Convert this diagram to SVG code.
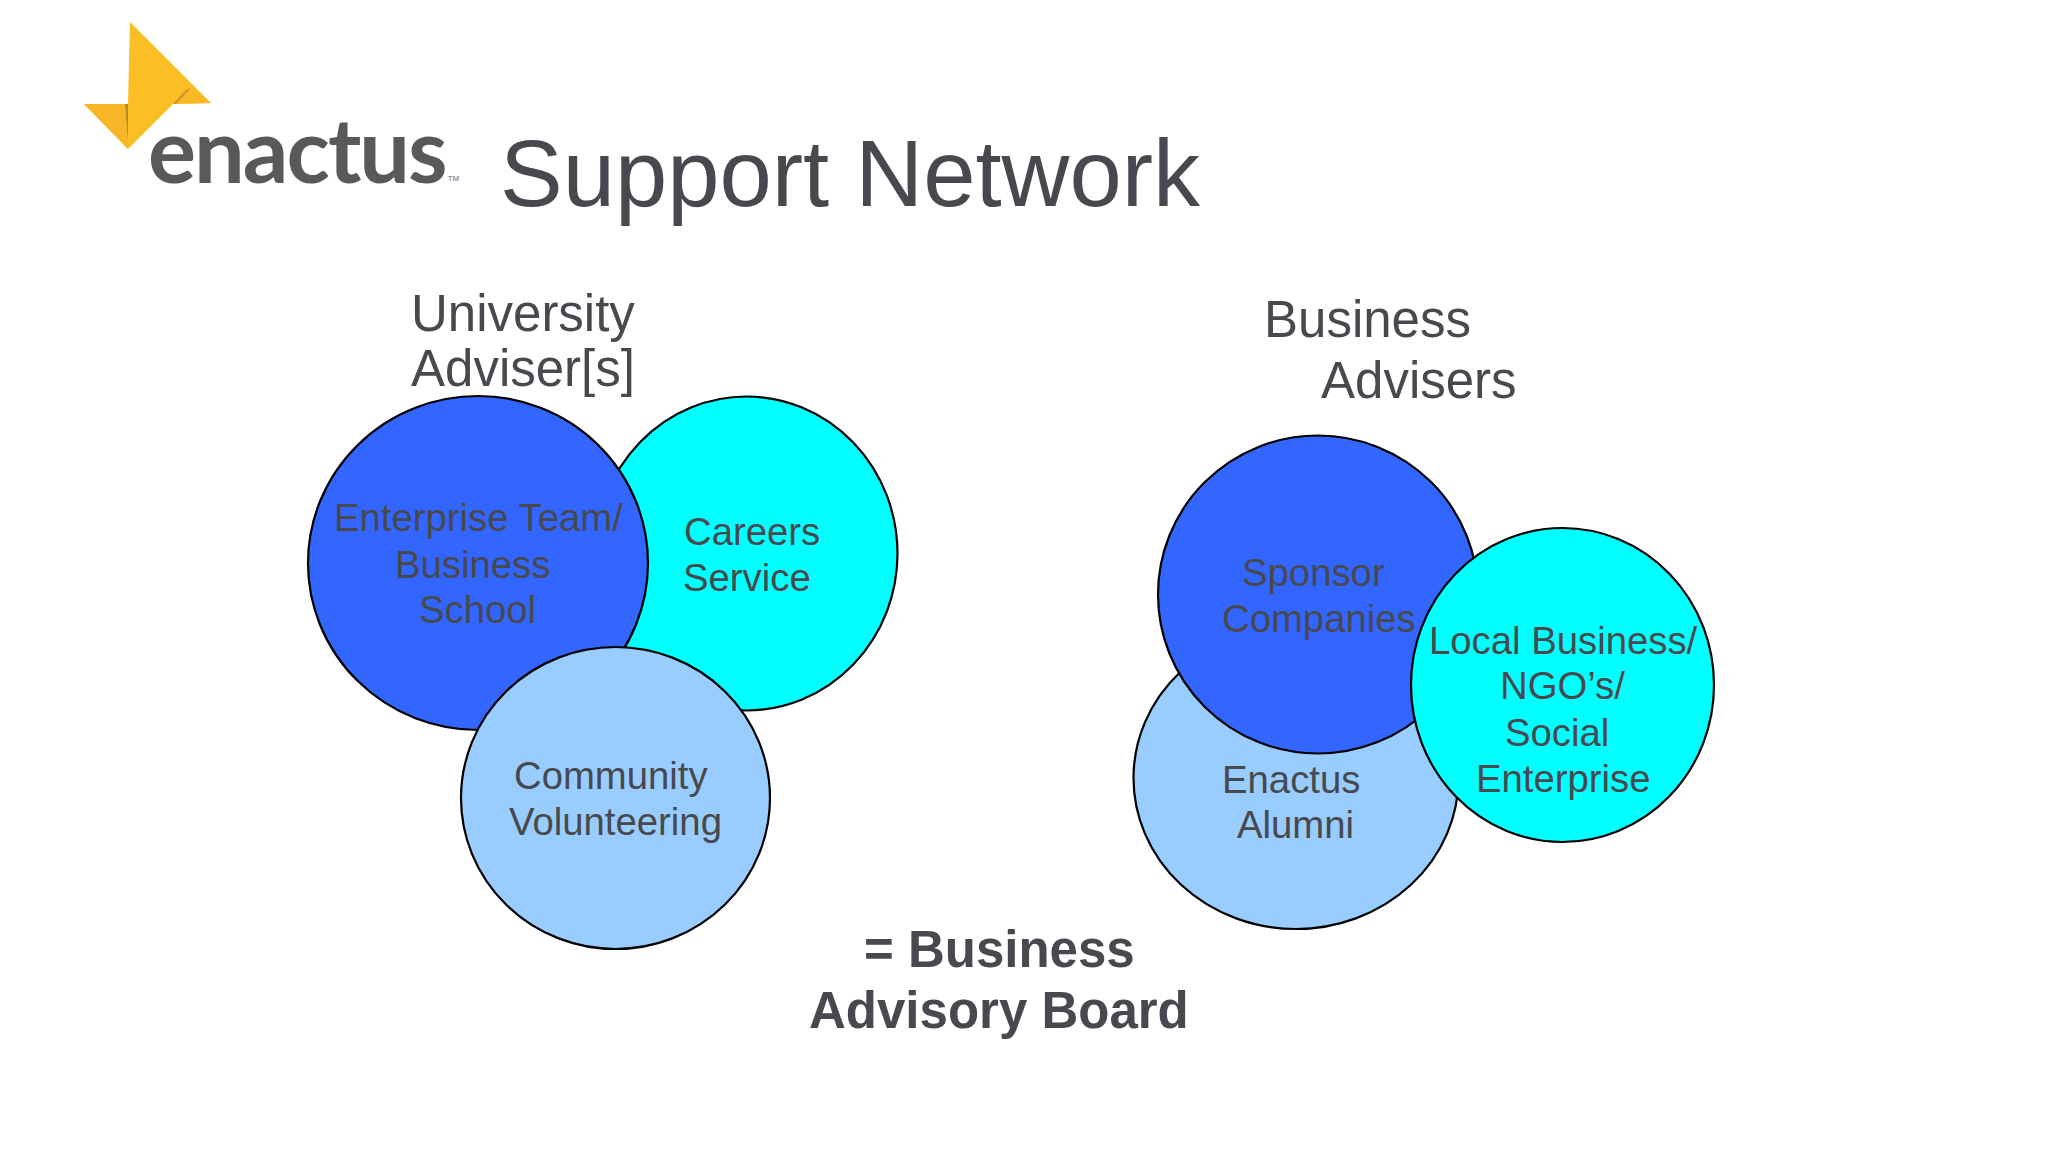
<svg xmlns="http://www.w3.org/2000/svg" width="2048" height="1152" viewBox="0 0 2048 1152">
<style>
text{font-family:"Liberation Sans",Arial,sans-serif;fill:#47494e}
.n{font-size:38.3px}
.h{font-size:51px}
.b{font-size:51px;font-weight:700}
.c{stroke:#000;stroke-width:2.2}
.blue{fill:#3366ff}.cyan{fill:#00ffff}.pale{fill:#99ccff}
</style>
<rect width="2048" height="1152" fill="#fff"/>
<g id="logo">
<polygon points="130,22 211,103 173,104 128,149 84,104 128,104" fill="#fbbe25"/>
<polygon points="191,89 211,103 173,104" fill="#f9b825"/>
<polygon points="191,88 176,104 173,104 186,90" fill="#c9932a"/>
<polygon points="128,104 125,104 128,143" fill="#b98a2a"/>
<polygon points="84,104 125,104 128,149" fill="#f7b528"/>
<text x="148" y="183" font-size="90" style="font-family:Lato,'Liberation Sans',sans-serif;font-weight:700;fill:#58595b" letter-spacing="-2">enactus</text>
<text x="447" y="185" font-size="13" style="fill:#8a8a8a">™</text>
</g>
<text id="title" x="500" y="206" font-size="94">Support Network</text>
<g id="university-advisers">
<text class="h" x="411" y="331">University</text>
<text class="h" x="411" y="386">Adviser[s]</text>
</g>
<g id="business-advisers">
<text class="h" x="1264" y="337">Business</text>
<text class="h" x="1321" y="398">Advisers</text>
</g>
<g id="careers">
<ellipse class="c cyan" cx="746.5" cy="553.5" rx="151" ry="157"/>
<text class="n" x="684" y="545">Careers</text>
<text class="n" x="683" y="591">Service</text>
</g>
<g id="enterprise">
<ellipse class="c blue" cx="478" cy="563" rx="170" ry="167"/>
<text class="n" x="334" y="531">Enterprise Team/</text>
<text class="n" x="395" y="578">Business</text>
<text class="n" x="419" y="623">School</text>
</g>
<g id="community">
<ellipse class="c pale" cx="615.5" cy="798" rx="154.5" ry="151"/>
<text class="n" x="514" y="789">Community</text>
<text class="n" x="509" y="835">Volunteering</text>
</g>
<g id="alumni">
<ellipse class="c pale" cx="1296" cy="778" rx="162.5" ry="151"/>
<text class="n" x="1222" y="793">Enactus</text>
<text class="n" x="1237" y="838">Alumni</text>
</g>
<g id="sponsor">
<ellipse class="c blue" cx="1318" cy="594.5" rx="160" ry="159"/>
<text class="n" x="1242" y="586">Sponsor</text>
<text class="n" x="1222" y="632">Companies</text>
</g>
<g id="local">
<ellipse class="c cyan" cx="1562.5" cy="685" rx="151.5" ry="157"/>
<text class="n" x="1429" y="654">Local Business/</text>
<text class="n" x="1500" y="699">NGO’s/</text>
<text class="n" x="1505" y="746">Social</text>
<text class="n" x="1476" y="792">Enterprise</text>
</g>
<g id="board">
<text class="b" x="864" y="967">= Business</text>
<text class="b" x="809" y="1028">Advisory Board</text>
</g>
</svg>
